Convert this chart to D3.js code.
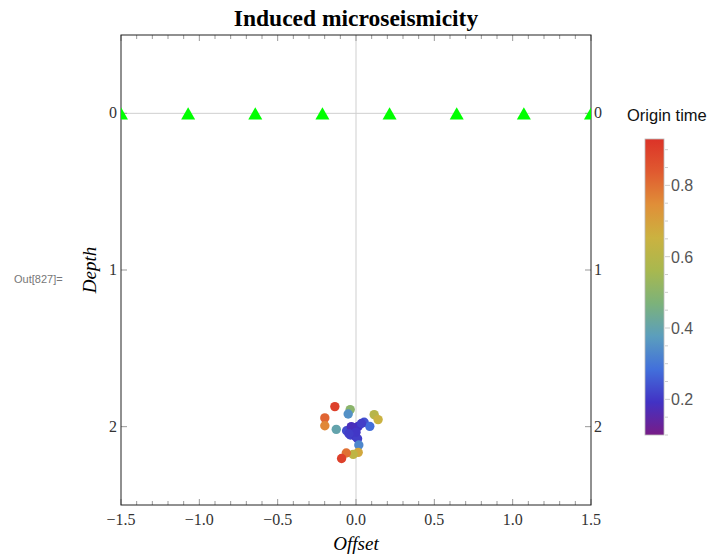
<!DOCTYPE html>
<html>
<head>
<meta charset="utf-8">
<script src="https://cdn.jsdelivr.net/npm/d3@7"></script>
<style>
  body { margin: 0; background: #fff; }
  svg { display: block; }
</style>
</head>
<body>
<div id="chart"></div>
<script>
// receiver stations along the surface
var stationX = [-1.5, -1.0714, -0.6429, -0.2143, 0.2143, 0.6429, 1.0714, 1.5];
var stationY = [0, 0, 0, 0, 0, 0, 0, 0];

// events: offset, depth, origin time
var eventX = [-0.135, -0.037, -0.05, -0.199, -0.199, -0.126, 0.116, 0.141, 0.052, 0.088,
              -0.014, 0.014, 0.035, -0.035, -0.003, -0.06, 0.01, 0.018, 0.014, -0.018, -0.062, -0.092,
              -0.03, 0.0, -0.045];
var eventY = [1.872, 1.891, 1.919, 1.944, 1.994, 2.017, 1.923, 1.955, 1.972, 1.998,
              2.008, 1.998, 1.98, 2.053, 2.062, 2.026, 2.077, 2.117, 2.164, 2.177, 2.168, 2.203,
              2.0, 2.035, 2.045];
var eventT = [0.9, 0.5, 0.35, 0.82, 0.76, 0.4, 0.6, 0.65, 0.24, 0.28,
              0.17, 0.19, 0.21, 0.22, 0.2, 0.23, 0.21, 0.33, 0.68, 0.62, 0.8, 0.9,
              0.18, 0.2, 0.21];

var xTicks = [-1.5, -1.0, -0.5, 0.0, 0.5, 1.0, 1.5];
var yTicks = [0, 1, 2];
var cbTicks = [0.2, 0.4, 0.6, 0.8];
var rainbow = ["#781c87", "#4232c4", "#4270db", "#5b9ebd", "#7cb27a", "#a8b84f", "#cbb240", "#e08f38", "#e05a30", "#dc3328"];

var W = 710, H = 555;
var plot = { left: 121, right: 591, top: 35, bottom: 505 };

var svg = d3.select("#chart").append("svg")
    .attr("width", W)
    .attr("height", H);

var x = d3.scaleLinear().domain([-1.5, 1.5]).range([plot.left, plot.right]);
var y = d3.scaleLinear().domain([-0.5, 2.5]).range([plot.top, plot.bottom]);

var tMin = 0.1, tMax = 0.93;
var color = d3.scaleLinear()
    .domain(d3.range(rainbow.length).map(function (i) { return tMin + i * (tMax - tMin) / (rainbow.length - 1); }))
    .range(rainbow)
    .interpolate(d3.interpolateRgb);

svg.append("clipPath").attr("id", "clip")
  .append("rect")
    .attr("x", plot.left).attr("y", plot.top)
    .attr("width", plot.right - plot.left).attr("height", plot.bottom - plot.top);

// origin axes
svg.append("line")
    .attr("x1", plot.left).attr("x2", plot.right)
    .attr("y1", y(0)).attr("y2", y(0))
    .attr("stroke", "#cfcfcf");
svg.append("line")
    .attr("x1", x(0)).attr("x2", x(0))
    .attr("y1", plot.top).attr("y2", plot.bottom)
    .attr("stroke", "#cfcfcf");

// minor + major ticks on top and bottom
var minor = d3.range(-15, 16).map(function (d) { return d / 10; });
[plot.top, plot.bottom].forEach(function (yy, k) {
  var dir = k == 0 ? 1 : -1;
  svg.selectAll(null).data(minor).enter().append("line")
      .attr("x1", function (d) { return x(d); })
      .attr("x2", function (d) { return x(d); })
      .attr("y1", yy)
      .attr("y2", function (d) { return yy + dir * (Math.abs(d * 2 - Math.round(d * 2)) < 1e-6 ? 6 : 4); })
      .attr("stroke", "#999");
});
[plot.left, plot.right].forEach(function (xx, k) {
  var dir = k == 0 ? 1 : -1;
  svg.selectAll(null).data(yTicks).enter().append("line")
      .attr("x1", xx).attr("x2", xx + dir * 6)
      .attr("y1", function (d) { return y(d); })
      .attr("y2", function (d) { return y(d); })
      .attr("stroke", "#999");
});

// frame
svg.append("rect")
    .attr("x", plot.left).attr("y", plot.top)
    .attr("width", plot.right - plot.left).attr("height", plot.bottom - plot.top)
    .attr("fill", "none")
    .attr("stroke", "#222");

// events
svg.append("g").selectAll("circle")
    .data(eventX)
  .enter().append("circle")
    .attr("cx", function (d) { return x(d); })
    .attr("cy", function (d, i) { return y(eventY[i]); })
    .attr("r", 4.7)
    .attr("fill", function (d, i) { return color(eventT[i]); });

// stations
svg.append("g").attr("clip-path", "url(#clip)")
  .selectAll("path")
    .data(stationX)
  .enter().append("path")
    .attr("d", d3.symbol().type(d3.symbolTriangle).size(85))
    .attr("transform", function (d, i) { return "translate(" + x(d) + "," + (y(stationY[i]) + 2) + ")"; })
    .attr("fill", "#00ff00");

// tick labels
var serif = "'Liberation Serif', 'DejaVu Serif', serif";
svg.append("g").selectAll("text")
    .data(xTicks)
  .enter().append("text")
    .attr("x", function (d) { return x(d); })
    .attr("y", plot.bottom + 20)
    .attr("text-anchor", "middle")
    .attr("font-family", serif)
    .attr("font-size", 16)
    .attr("fill", "#333")
    .text(function (d) { return d3.format(".1f")(d).replace("-", "\u2212"); });

svg.append("g").selectAll("text")
    .data(yTicks)
  .enter().append("text")
    .attr("x", plot.left - 4)
    .attr("y", function (d) { return y(d) + 5; })
    .attr("text-anchor", "end")
    .attr("font-family", serif)
    .attr("font-size", 16)
    .attr("fill", "#333")
    .text(function (d) { return d; });

svg.append("g").selectAll("text")
    .data(yTicks)
  .enter().append("text")
    .attr("x", plot.right + 3)
    .attr("y", function (d) { return y(d) + 5; })
    .attr("font-family", serif)
    .attr("font-size", 16)
    .attr("fill", "#333")
    .text(function (d) { return d; });

// titles
svg.append("text")
    .attr("x", (plot.left + plot.right) / 2)
    .attr("y", 26)
    .attr("text-anchor", "middle")
    .attr("font-family", serif)
    .attr("font-weight", "bold")
    .attr("font-size", 23.5)
    .text("Induced microseismicity");

svg.append("text")
    .attr("x", (plot.left + plot.right) / 2)
    .attr("y", 550)
    .attr("text-anchor", "middle")
    .attr("font-family", serif)
    .attr("font-style", "italic")
    .attr("font-size", 19)
    .text("Offset");

svg.append("text")
    .attr("transform", "translate(96," + y(1) + ") rotate(-90)")
    .attr("text-anchor", "middle")
    .attr("font-family", serif)
    .attr("font-style", "italic")
    .attr("font-size", 19)
    .text("Depth");

svg.append("text")
    .attr("x", 14)
    .attr("y", 283)
    .attr("font-family", "'Liberation Sans', Arial, sans-serif")
    .attr("font-size", 11)
    .attr("fill", "#777")
    .text("Out[827]=");

// colour bar
var cb = { x: 645, w: 19 };
var cbScale = d3.scaleLinear().domain([tMin, tMax]).range([435, 139]);

var grad = svg.append("defs").append("linearGradient")
    .attr("id", "grad")
    .attr("x1", 0).attr("y1", 1).attr("x2", 0).attr("y2", 0);
grad.selectAll("stop")
    .data(rainbow)
  .enter().append("stop")
    .attr("offset", function (d, i) { return i / (rainbow.length - 1); })
    .attr("stop-color", function (d) { return d; });

svg.append("rect")
    .attr("x", cb.x).attr("y", cbScale(tMax))
    .attr("width", cb.w).attr("height", cbScale(tMin) - cbScale(tMax))
    .attr("fill", "url(#grad)")
    .attr("stroke", "#bbb")
    .attr("stroke-width", 0.8);

var cbMinor = d3.range(2, 19).map(function (d) { return d / 20; }).filter(function (d) { return d >= tMin && d <= tMax; });
svg.append("g").selectAll("line")
    .data(cbMinor)
  .enter().append("line")
    .attr("x1", cb.x + cb.w + 1)
    .attr("x2", function (d) { return cb.x + cb.w + (Math.abs(d * 5 - Math.round(d * 5)) < 1e-6 ? 6 : 4); })
    .attr("y1", function (d) { return cbScale(d); })
    .attr("y2", function (d) { return cbScale(d); })
    .attr("stroke", "#ccc");

svg.append("g").selectAll("text")
    .data(cbTicks)
  .enter().append("text")
    .attr("x", cb.x + cb.w + 7)
    .attr("y", function (d) { return cbScale(d) + 6; })
    .attr("font-family", "'Liberation Sans', Arial, sans-serif")
    .attr("font-size", 16)
    .attr("fill", "#555")
    .text(function (d) { return d.toFixed(1); });

svg.append("text")
    .attr("x", 627)
    .attr("y", 121)
    .attr("font-family", "'Liberation Sans', Arial, sans-serif")
    .attr("font-size", 16.5)
    .attr("fill", "#111")
    .text("Origin time");
</script>
</body>
</html>
